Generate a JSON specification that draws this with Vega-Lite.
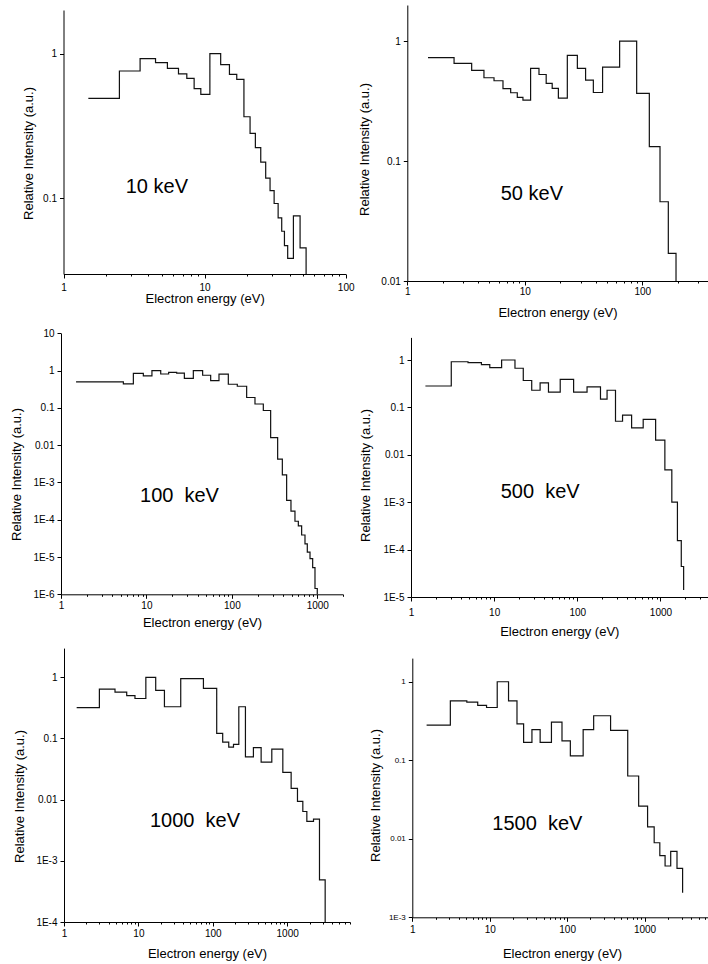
{
  "$schema": "https://vega.github.io/schema/vega-lite/v6.json",
  "padding": 0,
  "background": "white",
  "columns": 2,
  "spacing": 0,
  "bounds": "flush",
  "datasets": {
    "p10": [
      {"E": 1.5, "I": 0.49}, {"E": 2.49, "I": 0.758}, {"E": 3.49, "I": 0.923}, {"E": 4.49, "I": 0.866},
      {"E": 5.45, "I": 0.791}, {"E": 6.53, "I": 0.723}, {"E": 7.48, "I": 0.675}, {"E": 8.43, "I": 0.572},
      {"E": 9.4, "I": 0.523}, {"E": 10.9, "I": 1.0}, {"E": 13.0, "I": 0.839}, {"E": 15.0, "I": 0.719},
      {"E": 16.9, "I": 0.664}, {"E": 19.0, "I": 0.366}, {"E": 21.0, "I": 0.281}, {"E": 22.9, "I": 0.224},
      {"E": 25.0, "I": 0.178}, {"E": 27.1, "I": 0.138}, {"E": 29.1, "I": 0.113}, {"E": 31.1, "I": 0.0921},
      {"E": 33.2, "I": 0.0733}, {"E": 35.2, "I": 0.0592}, {"E": 36.8, "I": 0.0471}, {"E": 38.8, "I": 0.0385},
      {"E": 42.6, "I": 0.0757}, {"E": 47.5, "I": 0.0454}, {"E": 52.4, "I": 0.03}
    ],
    "p50": [
      {"E": 1.5, "I": 0.727}, {"E": 2.5, "I": 0.652}, {"E": 3.53, "I": 0.57}, {"E": 4.49, "I": 0.495},
      {"E": 5.47, "I": 0.467}, {"E": 6.52, "I": 0.401}, {"E": 7.58, "I": 0.371}, {"E": 8.63, "I": 0.339},
      {"E": 9.64, "I": 0.322}, {"E": 11.2, "I": 0.592}, {"E": 13.2, "I": 0.527}, {"E": 15.2, "I": 0.444},
      {"E": 17.1, "I": 0.403}, {"E": 19.3, "I": 0.335}, {"E": 23.0, "I": 0.76}, {"E": 28.0, "I": 0.592},
      {"E": 32.9, "I": 0.473}, {"E": 38.3, "I": 0.373}, {"E": 45.9, "I": 0.607}, {"E": 64.1, "I": 1.0},
      {"E": 89.5, "I": 0.366}, {"E": 114.7, "I": 0.132}, {"E": 141.4, "I": 0.0458}, {"E": 166.4, "I": 0.017},
      {"E": 193.5, "I": 0.01}
    ],
    "p100": [
      {"E": 1.5, "I": 0.496}, {"E": 5.37, "I": 0.438}, {"E": 7.03, "I": 0.847}, {"E": 9.2, "I": 0.718},
      {"E": 11.6, "I": 1.0}, {"E": 14.7, "I": 0.81}, {"E": 18.2, "I": 0.9}, {"E": 22.6, "I": 0.85},
      {"E": 27.8, "I": 0.62}, {"E": 35.4, "I": 1.0}, {"E": 45.5, "I": 0.75}, {"E": 56.5, "I": 0.54},
      {"E": 70.7, "I": 0.8}, {"E": 90.9, "I": 0.43}, {"E": 115.8, "I": 0.38}, {"E": 149, "I": 0.19},
      {"E": 186.5, "I": 0.127}, {"E": 233.5, "I": 0.085}, {"E": 284.5, "I": 0.016}, {"E": 343.6, "I": 0.0042},
      {"E": 389.9, "I": 0.0016}, {"E": 437.8, "I": 0.00033}, {"E": 492, "I": 0.00017}, {"E": 548, "I": 0.000091},
      {"E": 600, "I": 0.000068}, {"E": 656, "I": 0.000039}, {"E": 718, "I": 0.0000225}, {"E": 764, "I": 0.0000135},
      {"E": 822, "I": 0.0000091}, {"E": 883, "I": 0.0000052}, {"E": 940, "I": 0.00000143}, {"E": 1000, "I": 0.000001}
    ],
    "p500": [
      {"E": 1.49, "I": 0.283}, {"E": 3.05, "I": 0.92}, {"E": 4.85, "I": 0.88}, {"E": 7.03, "I": 0.8},
      {"E": 8.86, "I": 0.69}, {"E": 12.3, "I": 1.0}, {"E": 17.8, "I": 0.67}, {"E": 22.4, "I": 0.37},
      {"E": 28.3, "I": 0.23}, {"E": 35.7, "I": 0.33}, {"E": 45.0, "I": 0.21}, {"E": 62.3, "I": 0.39},
      {"E": 90.3, "I": 0.21}, {"E": 131, "I": 0.27}, {"E": 190, "I": 0.15}, {"E": 228, "I": 0.23},
      {"E": 288, "I": 0.051}, {"E": 350, "I": 0.069}, {"E": 450, "I": 0.037}, {"E": 620, "I": 0.056},
      {"E": 875, "I": 0.0205}, {"E": 1130, "I": 0.0048}, {"E": 1370, "I": 0.001}, {"E": 1600, "I": 0.000155},
      {"E": 1780, "I": 0.000044}, {"E": 1900, "I": 0.000014}
    ],
    "p1000": [
      {"E": 1.48, "I": 0.32}, {"E": 2.99, "I": 0.64}, {"E": 4.85, "I": 0.57}, {"E": 6.97, "I": 0.5},
      {"E": 9.0, "I": 0.45}, {"E": 12.6, "I": 1.0}, {"E": 17.1, "I": 0.61}, {"E": 22.4, "I": 0.33},
      {"E": 37.1, "I": 0.95}, {"E": 74.9, "I": 0.66}, {"E": 113, "I": 0.121}, {"E": 136, "I": 0.087},
      {"E": 164, "I": 0.072}, {"E": 190, "I": 0.08}, {"E": 224, "I": 0.33}, {"E": 275, "I": 0.05},
      {"E": 352, "I": 0.071}, {"E": 447, "I": 0.041}, {"E": 622, "I": 0.067}, {"E": 875, "I": 0.028},
      {"E": 1132, "I": 0.0153}, {"E": 1377, "I": 0.0094}, {"E": 1625, "I": 0.0064}, {"E": 1840, "I": 0.0044},
      {"E": 2262, "I": 0.0048}, {"E": 2722, "I": 0.00049}, {"E": 3245, "I": 0.0001}
    ],
    "p1500": [
      {"E": 1.53, "I": 0.28}, {"E": 3.1, "I": 0.57}, {"E": 5.06, "I": 0.55}, {"E": 7.0, "I": 0.5},
      {"E": 9.1, "I": 0.47}, {"E": 12.5, "I": 1.0}, {"E": 17.5, "I": 0.57}, {"E": 22.5, "I": 0.29},
      {"E": 27.4, "I": 0.169}, {"E": 35.1, "I": 0.245}, {"E": 44.8, "I": 0.169}, {"E": 62.7, "I": 0.306},
      {"E": 85.8, "I": 0.177}, {"E": 110, "I": 0.114}, {"E": 161, "I": 0.245}, {"E": 220, "I": 0.369},
      {"E": 364, "I": 0.24}, {"E": 606, "I": 0.063}, {"E": 839, "I": 0.026}, {"E": 1094, "I": 0.0142},
      {"E": 1331, "I": 0.0089}, {"E": 1574, "I": 0.0061}, {"E": 1841, "I": 0.0045}, {"E": 2176, "I": 0.0069},
      {"E": 2624, "I": 0.0042}, {"E": 3100, "I": 0.00205}
    ]
  },
  "concat": [
    {
      "width": 354, "height": 321,
      "layer": [
        {
          "data": {"name": "p10"},
          "mark": {"type": "line", "interpolate": "step-after", "color": "#111", "strokeWidth": 1.2},
          "encoding": {
            "x": {"field": "E", "type": "quantitative",
              "scale": {"type": "log", "domain": [1, 100], "range": [63.5, 345.7], "nice": false},
              "axis": {"title": "Electron energy (eV)", "offset": -47, "labelPadding": 4,
                "values": [1,2,3,4,5,6,7,8,9,10,20,30,40,50,60,70,80,90,100],
                "labelExpr": "indexof([1,10,100,1000,10000], datum.value) >= 0 ? format(datum.value, 'd') : ''",
                "tickSize": {"condition": {"test": "indexof([1,10,100,1000,10000], datum.value) >= 0", "value": 4}, "value": 2},
                "titleX": 204.6, "titleY": 24.3}},
            "y": {"field": "I", "type": "quantitative",
              "scale": {"type": "log", "domain": [0.03, 2], "range": [274, 10], "nice": false},
              "axis": {"title": "Relative Intensity (a.u.)", "offset": -63.5, "values": [0.1, 1],
                "labelExpr": "datum.value >= 0.01 ? format(datum.value, '~g') : '1E-' + format(round(-log(datum.value)/LN10), 'd')",
                "titleX": -35.5, "titleY": 153}}
          }
        },
        {
          "data": {"values": [{}]},
          "mark": {"type": "text", "align": "left", "baseline": "alphabetic", "fontSize": 20, "font": "Liberation Sans", "color": "#000"},
          "encoding": {"x": {"datum": 2.76, "type": "quantitative"}, "y": {"datum": 0.109, "type": "quantitative"}, "text": {"value": "10 keV"}}
        }
      ]
    },
    {
      "width": 354, "height": 321,
      "layer": [
        {
          "data": {"name": "p50"},
          "mark": {"type": "line", "interpolate": "step-after", "color": "#111", "strokeWidth": 1.2},
          "encoding": {
            "x": {"field": "E", "type": "quantitative",
              "scale": {"type": "log", "domain": [1, 360], "range": [53.3, 353.7], "nice": false},
              "axis": {"title": "Electron energy (eV)", "offset": -40, "labelPadding": 1,
                "values": [1,2,3,4,5,6,7,8,9,10,20,30,40,50,60,70,80,90,100,200,300],
                "labelExpr": "indexof([1,10,100,1000,10000], datum.value) >= 0 ? format(datum.value, 'd') : ''",
                "tickSize": {"condition": {"test": "indexof([1,10,100,1000,10000], datum.value) >= 0", "value": 4}, "value": 2},
                "titleX": 203.5, "titleY": 31}},
            "y": {"field": "I", "type": "quantitative",
              "scale": {"type": "log", "domain": [0.01, 2], "range": [281, 5], "nice": false},
              "axis": {"title": "Relative Intensity (a.u.)", "offset": -53.3, "values": [0.01, 0.1, 1],
                "labelExpr": "datum.value >= 0.01 ? format(datum.value, '~g') : '1E-' + format(round(-log(datum.value)/LN10), 'd')",
                "titleX": -43.3, "titleY": 149}}
          }
        },
        {
          "data": {"values": [{}]},
          "mark": {"type": "text", "align": "left", "baseline": "alphabetic", "fontSize": 20, "font": "Liberation Sans", "color": "#000"},
          "encoding": {"x": {"datum": 6.24, "type": "quantitative"}, "y": {"datum": 0.0473, "type": "quantitative"}, "text": {"value": "50 keV"}}
        }
      ]
    },
    {
      "width": 354, "height": 321,
      "layer": [
        {
          "data": {"name": "p100"},
          "mark": {"type": "line", "interpolate": "step-after", "color": "#111", "strokeWidth": 1.2},
          "encoding": {
            "x": {"field": "E", "type": "quantitative",
              "scale": {"type": "log", "domain": [1, 2000], "range": [61, 343], "nice": false},
              "axis": {"title": "Electron energy (eV)", "offset": -47.7, "labelPadding": 2,
                "values": [1,2,3,4,5,6,7,8,9,10,20,30,40,50,60,70,80,90,100,200,300,400,500,600,700,800,900,1000,2000],
                "labelExpr": "indexof([1,10,100,1000,10000], datum.value) >= 0 ? format(datum.value, 'd') : ''",
                "tickSize": {"condition": {"test": "indexof([1,10,100,1000,10000], datum.value) >= 0", "value": 4}, "value": 2},
                "titleX": 202, "titleY": 28.4}},
            "y": {"field": "I", "type": "quantitative",
              "scale": {"type": "log", "domain": [0.000001, 10], "range": [273.3, 12.3], "nice": false},
              "axis": {"title": "Relative Intensity (a.u.)", "offset": -61, "values": [0.000001, 0.00001, 0.0001, 0.001, 0.01, 0.1, 1, 10],
                "labelExpr": "datum.value >= 0.01 ? format(datum.value, '~g') : '1E-' + format(round(-log(datum.value)/LN10), 'd')",
                "titleX": -44.3, "titleY": 153}}
          }
        },
        {
          "data": {"values": [{}]},
          "mark": {"type": "text", "align": "left", "baseline": "alphabetic", "fontSize": 20, "font": "Liberation Sans", "color": "#000"},
          "encoding": {"x": {"datum": 8.41, "type": "quantitative"}, "y": {"datum": 0.000306, "type": "quantitative"}, "text": {"value": "100\u00a0\u00a0keV"}}
        }
      ]
    },
    {
      "width": 354, "height": 321,
      "layer": [
        {
          "data": {"name": "p500"},
          "mark": {"type": "line", "interpolate": "step-after", "color": "#111", "strokeWidth": 1.2},
          "encoding": {
            "x": {"field": "E", "type": "quantitative",
              "scale": {"type": "log", "domain": [1, 3700], "range": [57, 353.7], "nice": false},
              "axis": {"title": "Electron energy (eV)", "offset": -45, "labelPadding": 6,
                "values": [1,2,3,4,5,6,7,8,9,10,20,30,40,50,60,70,80,90,100,200,300,400,500,600,700,800,900,1000,2000,3000],
                "labelExpr": "indexof([1,10,100,1000,10000], datum.value) >= 0 ? format(datum.value, 'd') : ''",
                "tickSize": {"condition": {"test": "indexof([1,10,100,1000,10000], datum.value) >= 0", "value": 4}, "value": 2},
                "titleX": 205.3, "titleY": 34.7}},
            "y": {"field": "I", "type": "quantitative",
              "scale": {"type": "log", "domain": [0.00001, 3], "range": [276, 16.4], "nice": false},
              "axis": {"title": "Relative Intensity (a.u.)", "offset": -57, "values": [0.00001, 0.0001, 0.001, 0.01, 0.1, 1],
                "labelExpr": "datum.value >= 0.01 ? format(datum.value, '~g') : '1E-' + format(round(-log(datum.value)/LN10), 'd')",
                "titleX": -45.3, "titleY": 154}}
          }
        },
        {
          "data": {"values": [{}]},
          "mark": {"type": "text", "align": "left", "baseline": "alphabetic", "fontSize": 20, "font": "Liberation Sans", "color": "#000"},
          "encoding": {"x": {"datum": 11.97, "type": "quantitative"}, "y": {"datum": 0.00121, "type": "quantitative"}, "text": {"value": "500\u00a0\u00a0keV"}}
        }
      ]
    },
    {
      "width": 354, "height": 321,
      "layer": [
        {
          "data": {"name": "p1000"},
          "mark": {"type": "line", "interpolate": "step-after", "color": "#111", "strokeWidth": 1.2},
          "encoding": {
            "x": {"field": "E", "type": "quantitative",
              "scale": {"type": "log", "domain": [1, 7000], "range": [64, 350], "nice": false},
              "axis": {"title": "Electron energy (eV)", "offset": -41, "labelPadding": 2,
                "values": [1,2,3,4,5,6,7,8,9,10,20,30,40,50,60,70,80,90,100,200,300,400,500,600,700,800,900,1000,2000,3000,4000,5000,6000,7000],
                "labelExpr": "indexof([1,10,100,1000,10000], datum.value) >= 0 ? format(datum.value, 'd') : ''",
                "tickSize": {"condition": {"test": "indexof([1,10,100,1000,10000], datum.value) >= 0", "value": 4}, "value": 2},
                "titleX": 207, "titleY": 31.3}},
            "y": {"field": "I", "type": "quantitative",
              "scale": {"type": "log", "domain": [0.0001, 3], "range": [280, 6.1], "nice": false},
              "axis": {"title": "Relative Intensity (a.u.)", "offset": -64, "values": [0.0001, 0.001, 0.01, 0.1, 1],
                "labelExpr": "datum.value >= 0.01 ? format(datum.value, '~g') : '1E-' + format(round(-log(datum.value)/LN10), 'd')",
                "titleX": -45, "titleY": 154}}
          }
        },
        {
          "data": {"values": [{}]},
          "mark": {"type": "text", "align": "left", "baseline": "alphabetic", "fontSize": 20, "font": "Liberation Sans", "color": "#000"},
          "encoding": {"x": {"datum": 14.3, "type": "quantitative"}, "y": {"datum": 0.00362, "type": "quantitative"}, "text": {"value": "1000\u00a0\u00a0keV"}}
        }
      ]
    },
    {
      "width": 354, "height": 321,
      "layer": [
        {
          "data": {"name": "p1500"},
          "mark": {"type": "line", "interpolate": "step-after", "color": "#111", "strokeWidth": 1.2},
          "encoding": {
            "x": {"field": "E", "type": "quantitative",
              "scale": {"type": "log", "domain": [1, 6500], "range": [58.3, 353.5], "nice": false},
              "axis": {"title": "Electron energy (eV)", "offset": -45.7, "labelPadding": 3,
                "values": [1,2,3,4,5,6,7,8,9,10,20,30,40,50,60,70,80,90,100,200,300,400,500,600,700,800,900,1000,2000,3000,4000,5000,6000],
                "labelExpr": "indexof([1,10,100,1000,10000], datum.value) >= 0 ? format(datum.value, 'd') : ''",
                "tickSize": {"condition": {"test": "indexof([1,10,100,1000,10000], datum.value) >= 0", "value": 4}, "value": 2},
                "titleX": 208, "titleY": 36}},
            "y": {"field": "I", "type": "quantitative",
              "scale": {"type": "log", "domain": [0.001, 2], "range": [275.3, 16.1], "nice": false},
              "axis": {"title": "Relative Intensity (a.u.)", "offset": -58.3, "values": [0.001, 0.01, 0.1, 1], "labelFontSize": 8,
                "labelExpr": "datum.value >= 0.01 ? format(datum.value, '~g') : '1E-' + format(round(-log(datum.value)/LN10), 'd')",
                "titleX": -36.6, "titleY": 153}}
          }
        },
        {
          "data": {"values": [{}]},
          "mark": {"type": "text", "align": "left", "baseline": "alphabetic", "fontSize": 20, "font": "Liberation Sans", "color": "#000"},
          "encoding": {"x": {"datum": 10.8, "type": "quantitative"}, "y": {"datum": 0.0129, "type": "quantitative"}, "text": {"value": "1500\u00a0\u00a0keV"}}
        }
      ]
    }
  ],
  "config": {
    "view": {"stroke": null},
    "font": "Liberation Sans",
    "axis": {
      "grid": false,
      "domainColor": "#000",
      "domainWidth": 1,
      "tickColor": "#000",
      "tickWidth": 1,
      "labelColor": "#000",
      "titleColor": "#000",
      "labelFont": "Liberation Sans",
      "titleFont": "Liberation Sans",
      "labelFontSize": 10,
      "titleFontSize": 13,
      "titleFontWeight": "normal",
      "labelFlush": false,
      "labelOverlap": false,
      "labelBound": false
    },
    "axisY": {"titleAngle": 270, "titleAlign": "center", "titleBaseline": "middle", "tickSize": 4, "labelPadding": 3},
    "axisX": {"titleAngle": 0, "titleAlign": "center", "titleBaseline": "middle"}
  }
}
